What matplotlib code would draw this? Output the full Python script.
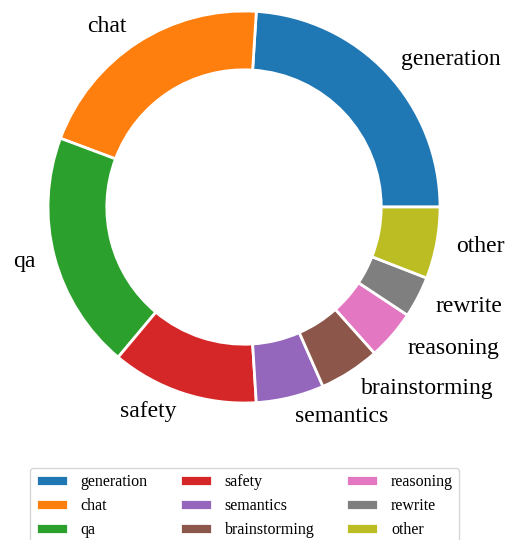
import matplotlib.pyplot as plt

# category shares (percent of the full circle)
categories = ['generation', 'chat', 'qa', 'safety', 'semantics',
              'brainstorming', 'reasoning', 'rewrite', 'other']
shares = [24.0, 20.3, 19.6, 12.1, 5.6, 5.0, 4.1, 3.4, 5.9]

plt.rcParams['font.family'] = ['Liberation Serif', 'DejaVu Serif']

fig = plt.figure(figsize=(5.12, 5.4), dpi=100)
# axes placed so the ring centre sits at ~(244, 207) px with radius ~196 px
ax = fig.add_axes([0.0172, 0.1811, 0.91875, 0.8711])

wedges, texts = ax.pie(shares, labels=categories, startangle=0, counterclock=True,
                       labeldistance=1.1,
                       wedgeprops=dict(width=0.3, edgecolor='white', linewidth=2),
                       textprops=dict(fontsize=17))
ax.set_xlim(-1.2, 1.2)
ax.set_ylim(-1.2, 1.2)
ax.set_aspect('equal')
ax.axis('off')

fig.legend(wedges, categories, ncol=3, loc='upper center',
           bbox_to_anchor=(0.4775, 0.149), bbox_transform=fig.transFigure,
           fontsize=11.5, frameon=True)

fig.savefig('out.png', dpi=100)
